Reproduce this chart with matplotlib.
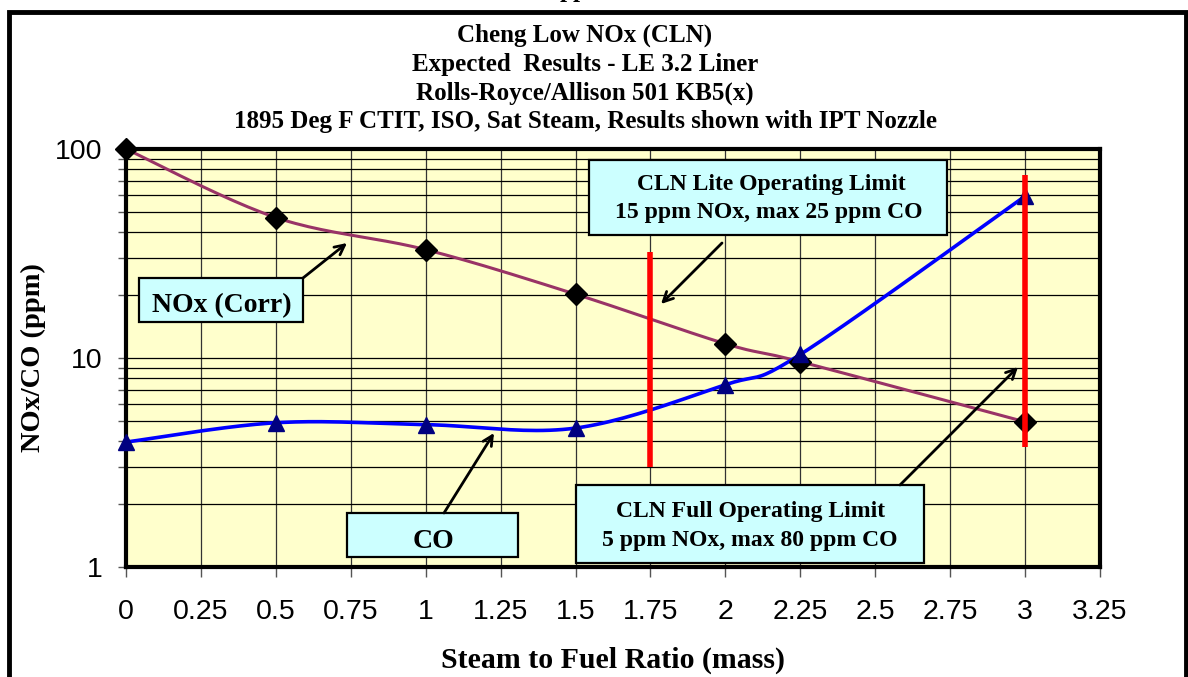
import numpy as np
import matplotlib
matplotlib.use('Agg')
import matplotlib.pyplot as plt
from matplotlib.patches import Rectangle
from matplotlib.ticker import LogLocator, NullFormatter, FixedFormatter, FixedLocator

# values
ratio = [0, 0.5, 1, 1.5, 2, 2.25, 3]
nox = [100, 47, 33, 20.2, 11.7, 9.6, 4.95]
co = [3.96, 4.9, 4.8, 4.62, 7.45, 10.4, 59.5]

limit_x = [1.75, 3.0]
limit_lo = [3.0, 3.75]
limit_hi = [32, 75]

x_ticks = [0, 0.25, 0.5, 0.75, 1, 1.25, 1.5, 1.75, 2, 2.25, 2.5, 2.75, 3, 3.25]
x_labels = ['0', '0.25', '0.5', '0.75', '1', '1.25', '1.5', '1.75', '2', '2.25', '2.5', '2.75', '3', '3.25']
y_ticks = [1, 10, 100]
y_labels = ['1', '10', '100']

title_lines = ['Cheng Low NOx (CLN)',
               'Expected  Results - LE 3.2 Liner',
               'Rolls-Royce/Allison 501 KB5(x)',
               '1895 Deg F CTIT, ISO, Sat Steam, Results shown with IPT Nozzle']

SERIF = 'Liberation Serif'
SANS = 'Liberation Sans'
W, H = 1188, 677


def smooth(xs, ys, n=24):
    # excel style smoothed line (cardinal spline in screen-ish space)
    px = np.asarray(xs, float) * 300.0
    py = np.log10(np.asarray(ys, float)) * 209.0
    P = np.column_stack([px, py])
    P = np.vstack([P[0], P, P[-1]])
    out = []
    t = np.linspace(0, 1, n)[:, None]
    for i in range(1, len(P) - 2):
        p0, p1, p2, p3 = P[i - 1], P[i], P[i + 1], P[i + 2]
        c1 = p1 + (p2 - p0) / 6.0
        c2 = p2 - (p3 - p1) / 6.0
        seg = ((1 - t) ** 3) * p1 + 3 * ((1 - t) ** 2) * t * c1 + 3 * (1 - t) * t ** 2 * c2 + t ** 3 * p2
        out.append(seg if i == 1 else seg[1:])
    out = np.vstack(out)
    return out[:, 0] / 300.0, 10 ** (out[:, 1] / 209.0)


fig = plt.figure(figsize=(W / 100, H / 100), dpi=100)
ax = fig.add_axes([126 / W, 1 - 567 / H, 974 / W, 418 / H])
ax.set_facecolor('#FFFFCC')
ax.set_yscale('log')
ax.set_xlim(0, 3.25)
ax.set_ylim(1, 100)

ax.xaxis.set_major_locator(FixedLocator(x_ticks))
ax.xaxis.set_major_formatter(FixedFormatter(x_labels))
ax.yaxis.set_major_locator(FixedLocator(y_ticks))
ax.yaxis.set_major_formatter(FixedFormatter(y_labels))
ax.yaxis.set_minor_locator(LogLocator(base=10, subs=range(2, 10)))
ax.yaxis.set_minor_formatter(NullFormatter())

ax.set_axisbelow(True)
ax.grid(True, axis='x', which='major', color='#333333', lw=0.9)
ax.grid(True, axis='y', which='both', color='black', lw=0.9)

for s in ax.spines.values():
    s.set_linewidth(3)
    s.set_color('black')

ax.tick_params(axis='x', direction='out', length=7, width=1, color='#555555', pad=16)
ax.tick_params(axis='y', which='both', direction='out', length=6, width=1, color='#555555', pad=11)
for lab in ax.get_xticklabels() + ax.get_yticklabels():
    lab.set_fontfamily(SANS)
    lab.set_fontsize(20.5)

# series
sx, sy = smooth(ratio, nox)
ax.plot(sx, sy, color='#993366', lw=2.2, zorder=3, clip_on=False)
ax.plot(ratio, nox, ls='none', marker='D', ms=11.5, color='black', zorder=4, clip_on=False)
sx, sy = smooth(ratio, co)
ax.plot(sx, sy, color='#0000FF', lw=2.6, zorder=3, clip_on=False)
ax.plot(ratio, co, ls='none', marker='^', ms=11.5, color='#000080', zorder=4, clip_on=False)

ax.vlines(limit_x, limit_lo, limit_hi, colors='#FF0000', lw=4, zorder=5)

# labels
ax.set_xlabel('Steam to Fuel Ratio (mass)', fontfamily=SERIF, fontweight='bold', fontsize=21.5)
ax.xaxis.set_label_coords(0.5, (567 - 668) / 418)
ax.xaxis.label.set_va('baseline')
ax.set_ylabel('NOx/CO (ppm)', fontfamily=SERIF, fontweight='bold', fontsize=20.5)
ax.yaxis.set_label_coords((33 - 126) / 974, 0.5)
ax.yaxis.label.set_va('center')

baselines = [42, 71, 100, 128]
for line, b in zip(title_lines, baselines):
    fig.text(585 / W, 1 - b / H, line, ha='center', va='baseline',
             fontfamily=SERIF, fontweight='bold', fontsize=18)

# text clipped at the very top of the page, as in the source image
fig.text(574 / W, 1 + 2.5 / H, 'pp', ha='center', va='baseline',
         fontfamily=SERIF, fontweight='bold', fontsize=18)


def fx(px):
    return (px - 126) / 974


def fy(py):
    return (567 - py) / 418


# callout boxes, in axes fractions
def box(x0, x1, y0, y1):
    ax.add_patch(Rectangle((x0, y0), x1 - x0, y1 - y0, transform=ax.transAxes,
                           facecolor='#CCFFFF', edgecolor='black', lw=1.6, zorder=6))


def arrow(xy_from, xy_to):
    ax.annotate('', xy=xy_to, xytext=xy_from, xycoords='axes fraction',
                textcoords='axes fraction', zorder=7,
                arrowprops=dict(arrowstyle='->,head_length=0.7,head_width=0.35',
                                color='black', lw=2, shrinkA=0, shrinkB=0))


def label(px, py, s, size):
    ax.text(fx(px), fy(py), s, transform=ax.transAxes, ha='center', va='baseline',
            fontfamily=SERIF, fontweight='bold', fontsize=size, zorder=8)


box(fx(139), fx(303), fy(322), fy(278))
label(222, 312, 'NOx (Corr)', 20)
arrow((fx(303), fy(278)), (fx(347), fy(243)))

box(fx(589), fx(947), fy(235), fy(160))
label(771, 190, 'CLN Lite Operating Limit', 17)
label(769, 218, '15 ppm NOx, max 25 ppm CO', 17)
arrow((fx(722), fy(243)), (fx(661), fy(304)))

box(fx(347), fx(518), fy(557), fy(513))
label(434, 548, 'CO', 20)
arrow((fx(444), fy(513)), (fx(494), fy(433)))

box(fx(576), fx(924), fy(563), fy(485))
label(751, 517, 'CLN Full Operating Limit', 17)
label(750, 546, '5 ppm NOx, max 80 ppm CO', 17)
arrow((fx(900), fy(485)), (fx(1018), fy(367)))

# outer chart frame (runs off the bottom of the page)
fig.add_artist(Rectangle((9 / W, -0.05), (1185.5 - 9) / W, 1.05 - 11.7 / H,
                         transform=fig.transFigure, fill=False, lw=3.5, ec='black'))

fig.savefig('out.png', dpi=100)
